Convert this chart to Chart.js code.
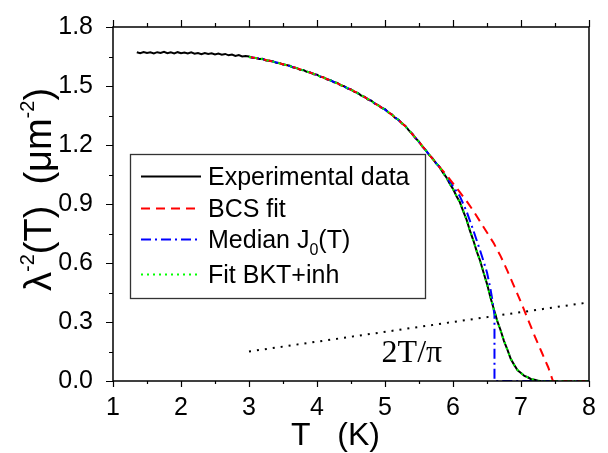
<!DOCTYPE html>
<html>
<head>
<meta charset="utf-8">
<script src="https://cdn.jsdelivr.net/npm/chart.js@4.4.0/dist/chart.umd.min.js"></script>
<style>
  html, body { margin: 0; padding: 0; background: #fff; }
  #wrap { width: 608px; height: 453px; }
</style>
</head>
<body>
<div id="wrap"><canvas id="lambdaChart" width="608" height="453"></canvas></div>
<script>
// experimental lambda^-2(T)
var expT = [1.35,1.40,1.45,1.50,1.55,1.60,1.65,1.70,1.75,1.80,1.85,1.90,1.95,2.00,2.05,2.10,2.15,2.20,2.25,2.30,2.35,2.40,2.45,2.50,2.55,2.60,2.65,2.70,2.75,2.80,2.85,2.90,2.95,
  3.00,3.05,3.10,3.15,3.20,3.25,3.30,3.35,3.40,3.45,3.50,3.55,3.60,3.65,3.70,3.75,3.80,3.85,3.90,3.95,
  4.00,4.05,4.10,4.15,4.20,4.25,4.30,4.35,4.40,4.45,4.50,4.55,4.60,4.65,4.70,4.75,4.80,4.85,4.90,4.95,
  5.00,5.05,5.10,5.15,5.20,5.25,5.30,5.35,5.40,5.45,5.50,5.55,5.60,5.65,5.70,5.75,5.80,5.85,5.90,5.95,
  6.00,6.05,6.10,6.15,6.20,6.25,6.30,6.35,6.40,6.45,6.50,6.55,6.60,6.65,6.70,6.75,6.80,6.85,6.90,6.95,
  7.00,7.05,7.10,7.15,7.20,7.25,7.30];
var expY = [1.672,1.667,1.673,1.668,1.671,1.666,1.672,1.668,1.674,1.667,1.671,1.666,1.672,1.667,1.670,1.665,1.671,1.664,1.668,1.662,1.668,1.663,1.666,1.660,1.665,1.659,1.663,1.656,1.660,1.653,1.657,1.650,1.653,
  1.650,1.644,1.643,1.637,1.638,1.630,1.629,1.626,1.618,1.617,1.609,1.607,1.603,1.594,1.592,1.583,1.581,1.572,1.569,1.560,
  1.558,1.547,1.544,1.533,1.530,1.519,1.515,1.503,1.499,1.487,1.483,1.470,1.465,1.451,1.445,1.431,1.425,1.410,1.403,1.389,
  1.382,1.365,1.356,1.338,1.328,1.309,1.297,1.274,1.258,1.234,1.217,1.192,1.174,1.149,1.132,1.107,1.090,1.061,1.037,1.004,
  0.977,0.941,0.910,0.864,0.820,0.763,0.714,0.658,0.610,0.550,0.494,0.426,0.366,0.306,0.258,0.203,0.159,0.112,0.082,0.054,
  0.041,0.026,0.019,0.009,0.006,0.001,0.000];

// part shared by the three fits (T = 3.0 .. 5.8)
var commonT = [3.0,3.1,3.2,3.3,3.4,3.5,3.6,3.7,3.8,3.9,4.0,4.1,4.2,4.3,4.4,4.5,4.6,4.7,4.8,4.9,5.0,5.1,5.2,5.3,5.4,5.5,5.6,5.7,5.8];
var commonY = [1.648,1.642,1.636,1.628,1.620,1.611,1.601,1.591,1.579,1.568,1.556,1.542,1.528,1.513,1.497,1.481,1.463,1.443,1.423,1.401,1.380,1.354,1.326,1.295,1.256,1.215,1.172,1.130,1.088];

// BCS fit
var bcsT = [5.9,6.0,6.1,6.2,6.3,6.4,6.5,6.6,6.7,6.8,6.9,7.0,7.1,7.2,7.3,7.4,7.47,8.0];
var bcsY = [1.050,1.005,0.960,0.915,0.865,0.810,0.755,0.700,0.635,0.560,0.480,0.400,0.315,0.230,0.150,0.070,0.000,0.000];

// Median J0(T)
var medianT = [5.9,6.0,6.1,6.2,6.3,6.4,6.45,6.5,6.55,6.58,6.61,6.61,8.0];
var medianY = [1.038,0.990,0.940,0.862,0.765,0.662,0.608,0.552,0.470,0.410,0.335,0.000,0.000];

// Fit BKT+inh
var bktT = [5.9,6.0,6.05,6.1,6.15,6.2,6.25,6.3,6.35,6.4,6.45,6.5,6.55,6.6,6.65,6.7,6.75,6.8,6.85,6.9,6.95,7.0,7.05,7.1,7.15,7.2,7.25,7.3,8.0];
var bktY = [1.035,0.975,0.943,0.908,0.866,0.818,0.765,0.712,0.660,0.608,0.552,0.492,0.428,0.364,0.308,0.256,0.205,0.157,0.114,0.080,0.056,0.040,0.027,0.018,0.010,0.005,0.002,0.000,0.000];

// 2T/pi line
var lineT = [3, 8];
var lineY = [0.15, 0.40];

var xTicks = [1, 2, 3, 4, 5, 6, 7, 8];
var yTickLabels = ['0.0', '0.3', '0.6', '0.9', '1.2', '1.5', '1.8'];

var legendNames = ['Experimental data', 'BCS fit', 'Median J', 'Fit BKT+inh'];

function pts(xs, ys) {
    return xs.map(function (x, i) { return { x: x, y: ys[i] }; });
}

var SANS = "Arial, 'Liberation Sans', sans-serif";

function drawRich(ctx, x, y, parts) {
    parts.forEach(function (p) {
        ctx.font = p[1] + 'px ' + SANS;
        ctx.fillText(p[0], x, y + p[2]);
        x += ctx.measureText(p[0]).width;
    });
}

var decorations = {
    id: 'decorations',
    afterDraw: function (chart) {
        var ctx = chart.ctx, a = chart.chartArea;
        var xs = chart.scales.x, ys = chart.scales.y;
        ctx.save();
        ctx.strokeStyle = '#000';
        ctx.fillStyle = '#000';

        // frame
        ctx.lineWidth = 1.5;
        ctx.strokeRect(a.left, a.top, a.right - a.left, a.bottom - a.top);

        // x ticks, top and bottom, with minor ticks
        ctx.lineWidth = 1.2;
        ctx.beginPath();
        for (var v = xs.min; v <= xs.max + 1e-9; v += 0.5) {
            var px = Math.round(xs.getPixelForValue(v)) + 0.5;
            var major = Math.abs(v - Math.round(v)) < 1e-6;
            ctx.moveTo(px, a.bottom); ctx.lineTo(px, a.bottom + (major ? 6 : 3));
            ctx.moveTo(px, a.top); ctx.lineTo(px, a.top - (major ? 7 : 4));
        }
        // y ticks, left side
        for (var i = 0; i <= 12; i++) {
            var py = Math.round(ys.getPixelForValue(i * 0.15)) + 0.5;
            ctx.moveTo(a.left, py); ctx.lineTo(a.left - (i % 2 === 0 ? 7 : 4), py);
        }
        ctx.stroke();

        // axis titles
        ctx.textAlign = 'left';
        ctx.textBaseline = 'alphabetic';
        ctx.font = '32px ' + SANS;
        ctx.fillText('T   (K)', 291, 445);

        ctx.save();
        ctx.translate(51, 291);
        ctx.rotate(-Math.PI / 2);
        drawRich(ctx, 0, 0, [['\u03BB', 38, 0], ['-2', 20, -17], ['(T)', 38, 0], ['  (\u03BCm', 38, 0], ['-2', 20, -17], [')', 38, 0]]);
        ctx.restore();

        // 2T/pi label
        ctx.font = "32px 'Liberation Serif', 'Times New Roman', serif";
        ctx.fillText('2T/\u03C0', xs.getPixelForValue(4.95), ys.getPixelForValue(0.095));

        // legend box
        var lx = 130.5, ly = 154.5, lw = 295, lh = 144;
        ctx.fillStyle = '#fff';
        ctx.fillRect(lx, ly, lw, lh);
        ctx.strokeStyle = '#333';
        ctx.lineWidth = 1.3;
        ctx.strokeRect(lx, ly, lw, lh);

        var rows = [176, 208, 239, 274];
        var sets = chart.data.datasets;
        for (var r = 0; r < 4; r++) {
            var ds = sets[r];
            ctx.beginPath();
            ctx.setLineDash(ds.borderDash || []);
            ctx.strokeStyle = ds.borderColor;
            ctx.lineWidth = ds.borderWidth;
            ctx.moveTo(141, rows[r] + 0.5);
            ctx.lineTo(201, rows[r] + 0.5);
            ctx.stroke();
            ctx.setLineDash([]);
            ctx.fillStyle = '#000';
            if (r === 2) {
                drawRich(ctx, 208, rows[r] + 9, [[legendNames[r], 25, 0], ['0', 16, 7], ['(T)', 25, 0]]);
            } else {
                ctx.font = '25px ' + SANS;
                ctx.fillText(legendNames[r], 208, rows[r] + 9);
            }
        }
        ctx.restore();
    }
};

var ctx = document.getElementById('lambdaChart').getContext('2d');
window.lambdaChart = new Chart(ctx, {
    type: 'scatter',
    data: {
        datasets: [{
            label: 'Experimental data',
            data: pts(expT, expY),
            borderColor: '#000',
            borderWidth: 2,
            order: 4
        }, {
            label: 'BCS fit',
            data: pts(commonT.concat(bcsT), commonY.concat(bcsY)),
            borderColor: '#ff0000',
            borderWidth: 2,
            borderDash: [9, 6],
            order: 2
        }, {
            label: 'Median J0(T)',
            data: pts(commonT.concat(medianT), commonY.concat(medianY)),
            borderColor: '#0000ff',
            borderWidth: 2,
            borderDash: [10, 4, 2, 4],
            order: 3
        }, {
            label: 'Fit BKT+inh',
            data: pts(commonT.concat(bktT), commonY.concat(bktY)),
            borderColor: '#00ff00',
            borderWidth: 2,
            borderDash: [2, 4],
            order: 1
        }, {
            label: '2T/pi',
            data: pts(lineT, lineY),
            borderColor: '#000',
            borderWidth: 2,
            borderDash: [2, 6],
            order: 5
        }]
    },
    options: {
        responsive: false,
        animation: false,
        showLine: true,
        elements: { point: { radius: 0, hoverRadius: 0 }, line: { tension: 0, fill: false } },
        layout: { padding: { top: 22, right: 19, left: 0, bottom: 0 } },
        plugins: { legend: { display: false }, tooltip: { enabled: false } },
        scales: {
            x: {
                type: 'linear',
                min: xTicks[0],
                max: xTicks[xTicks.length - 1],
                grid: { display: false },
                border: { display: false },
                afterFit: function (s) { s.height = 72; },
                ticks: {
                    stepSize: 1,
                    color: '#000',
                    padding: 4,
                    maxRotation: 0,
                    font: { family: SANS, size: 25 },
                    callback: function (v) { return xTicks.indexOf(v) >= 0 ? String(v) : ''; }
                }
            },
            y: {
                min: 0,
                max: 1.8,
                grid: { display: false },
                border: { display: false },
                afterFit: function (s) { s.width = 113; },
                ticks: {
                    stepSize: 0.3,
                    color: '#000',
                    padding: 12,
                    font: { family: SANS, size: 25 },
                    callback: function (v) { return yTickLabels[Math.round(v / 0.3)]; }
                }
            }
        }
    },
    plugins: [decorations]
});
</script>
</body>
</html>
